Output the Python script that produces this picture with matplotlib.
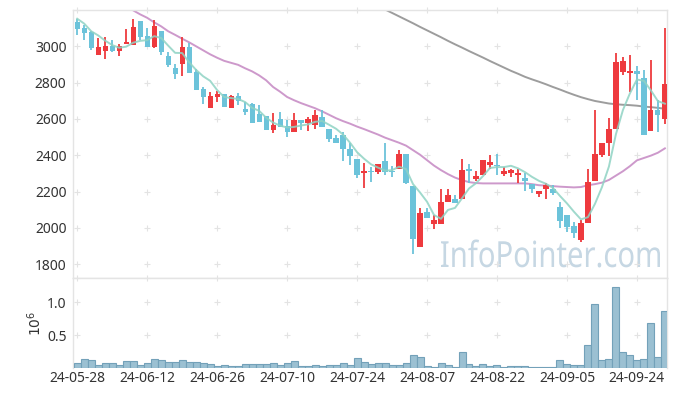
import matplotlib
matplotlib.use("Agg")
import matplotlib.pyplot as plt
import numpy as np
from matplotlib.textpath import TextPath
from matplotlib.patches import PathPatch
from matplotlib.font_manager import FontProperties
from matplotlib.transforms import Affine2D

plt.rcParams['font.family'] = ['Noto Sans', 'DejaVu Sans']

# daily candles, 2024-05-28 .. 2024-09-30 (trading days only)
opens = [3133, 3100, 3079, 2954, 2974, 3000, 2974, 3013, 3007, 3139,
         3055, 2996, 3083, 2945, 2881, 2903, 2995, 2859, 2763, 2661,
         2721, 2736, 2661, 2725, 2653, 2685, 2626, 2615, 2538, 2602,
         2560, 2529, 2593, 2578, 2569, 2608, 2547, 2496, 2510, 2437,
         2378, 2300, 2313, 2309, 2368, 2314, 2322, 2406, 2230, 1896,
         2085, 2021, 2019, 2144, 2157, 2157, 2327, 2268, 2294, 2345,
         2345, 2296, 2303, 2294, 2274, 2241, 2186, 2212, 2212, 2113,
         2071, 2010, 1933, 2028, 2259, 2404, 2470, 2547, 2859, 2853,
         2862, 2828, 2534, 2648, 2602]
highs = [3152, 3119, 3083, 3046, 3051, 3033, 3015, 3097, 3152, 3139,
         3101, 3147, 3083, 2969, 2905, 3051, 3018, 2877, 2776, 2749,
         2752, 2736, 2730, 2743, 2694, 2688, 2675, 2615, 2630, 2639,
         2593, 2630, 2593, 2611, 2648, 2648, 2547, 2510, 2529, 2465,
         2378, 2358, 2336, 2351, 2465, 2340, 2428, 2406, 2230, 2107,
         2107, 2071, 2212, 2212, 2180, 2382, 2351, 2314, 2373, 2404,
         2406, 2336, 2327, 2327, 2300, 2241, 2203, 2248, 2236, 2144,
         2071, 2034, 2043, 2327, 2652, 2465, 2606, 2963, 2941, 2954,
         2890, 2872, 2923, 2703, 3103]
lows = [3060, 3033, 2982, 2954, 2932, 2969, 2947, 3013, 3007, 3037,
        2996, 2991, 2954, 2886, 2822, 2835, 2853, 2758, 2685, 2661,
        2694, 2666, 2661, 2679, 2620, 2578, 2582, 2538, 2523, 2553,
        2501, 2529, 2538, 2534, 2547, 2556, 2474, 2468, 2369, 2349,
        2272, 2217, 2250, 2296, 2290, 2278, 2322, 2239, 1854, 1896,
        2052, 1992, 2019, 2144, 2135, 2157, 2245, 2259, 2294, 2322,
        2294, 2287, 2278, 2248, 2203, 2190, 2168, 2159, 2180, 2001,
        1975, 1942, 1920, 2028, 2259, 2391, 2395, 2547, 2841, 2749,
        2707, 2510, 2534, 2529, 2571]
closes = [3094, 3075, 2991, 2995, 3000, 2974, 3000, 3022, 3104, 3050,
          2996, 3110, 2969, 2895, 2848, 2995, 2853, 2758, 2721, 2725,
          2736, 2666, 2725, 2699, 2639, 2578, 2582, 2538, 2565, 2553,
          2529, 2593, 2578, 2598, 2620, 2556, 2489, 2468, 2437, 2395,
          2294, 2313, 2309, 2351, 2309, 2309, 2406, 2245, 1937, 2080,
          2052, 2043, 2140, 2180, 2135, 2318, 2312, 2285, 2373, 2362,
          2342, 2313, 2318, 2305, 2259, 2212, 2203, 2236, 2190, 2039,
          2006, 1973, 2025, 2250, 2406, 2465, 2544, 2914, 2918, 2864,
          2846, 2510, 2648, 2620, 2795]
volumes = [77000, 138000, 122000, 46000, 77000, 77000, 46000, 107000, 107000, 46000,
           77000, 138000, 122000, 92000, 92000, 122000, 92000, 92000, 77000, 61000,
           31000, 46000, 31000, 31000, 61000, 61000, 61000, 61000, 77000, 46000,
           77000, 107000, 31000, 31000, 46000, 31000, 46000, 41000, 71000, 41000,
           148000, 87000, 56000, 71000, 71000, 41000, 41000, 71000, 194000, 163000,
           26000, 10000, 71000, 41000, 10000, 240000, 56000, 26000, 56000, 26000,
           41000, 10000, 26000, 26000, 26000, 10000, 10000, 10000, 10000, 117000,
           56000, 41000, 41000, 347000, 974000, 117000, 133000, 1235000, 240000, 194000,
           117000, 133000, 684000, 163000, 867000]

# moving averages as drawn (5, 20, 60 day)
ma5 = [3152, 3125, 3083, 3060, 3031, 3007, 2992, 2998, 3020, 3030,
       3034, 3056, 3046, 3004, 2964, 2963, 2912, 2870, 2835, 2810,
       2759, 2721, 2715, 2710, 2693, 2661, 2645, 2607, 2580, 2563,
       2553, 2556, 2564, 2570, 2584, 2589, 2568, 2546, 2514, 2469,
       2417, 2381, 2350, 2332, 2315, 2318, 2337, 2324, 2241, 2195,
       2144, 2071, 2050, 2099, 2110, 2163, 2217, 2246, 2285, 2330,
       2335, 2335, 2342, 2328, 2307, 2281, 2259, 2243, 2220, 2176,
       2135, 2089, 2047, 2059, 2132, 2224, 2338, 2516, 2649, 2741,
       2817, 2810, 2757, 2698, 2684]
ma20_start = 8
ma20 = [3198, 3176, 3157, 3132, 3110, 3083, 3063, 3042, 3022, 3000,
        2978, 2956, 2937, 2920, 2909, 2898, 2879, 2862, 2840, 2813,
        2776, 2750, 2721, 2703, 2687, 2673, 2659, 2642, 2623, 2604,
        2588, 2574, 2558, 2544, 2529, 2514, 2497, 2483, 2469, 2453,
        2428, 2403, 2373, 2343, 2318, 2296, 2277, 2263, 2252, 2247,
        2245, 2245, 2245, 2245, 2245, 2245, 2245, 2241, 2235, 2233,
        2230, 2227, 2225, 2223, 2225, 2235, 2241, 2249, 2264, 2288,
        2312, 2340, 2372, 2385, 2398, 2414, 2438]
ma60_start = 44
ma60 = [3203, 3184, 3165, 3146, 3127, 3107, 3088, 3069, 3050, 3030,
        3011, 2993, 2974, 2956, 2938, 2919, 2901, 2883, 2865, 2849,
        2832, 2818, 2805, 2791, 2776, 2762, 2747, 2733, 2720, 2709,
        2699, 2692, 2685, 2681, 2678, 2676, 2673, 2668, 2665, 2661,
        2656]

tick_pos = [0, 10, 20, 30, 40, 50, 60, 70, 80]
tick_labels = ['24-05-28', '24-06-12', '24-06-26', '24-07-10', '24-07-24',
               '24-08-07', '24-08-22', '24-09-05', '24-09-24']
price_ticks = [1800, 2000, 2200, 2400, 2600, 2800, 3000]

UP = '#ee3a3e'
DOWN = '#6cc3da'
GRID = '#e3e3e3'
SPINE = '#e4e4e4'
TXT = '#333333'

W, H = 677, 396
fig = plt.figure(figsize=(W / 100, H / 100), dpi=100)
left = 73 / W
width = (667 - 73) / W
ax = fig.add_axes([left, 1 - 278 / H, width, (278 - 10) / H])
axv = fig.add_axes([left, 1 - 368 / H, width, (368 - 278) / H], sharex=ax)

x = np.arange(len(closes))
o = np.array(opens)
c = np.array(closes)
up = c >= o
cols = np.where(up, UP, DOWN)

# wicks + bodies
ax.vlines(x, lows, highs, colors=cols, linewidth=1.3, zorder=3)
body_h = np.maximum(np.abs(c - o), 4)
ax.bar(x, body_h, 0.74, bottom=np.minimum(o, c), color=cols, linewidth=0, zorder=4)

# moving averages
ax.plot(x, ma5, color='#8fd3c4', lw=1.4, alpha=0.85, zorder=5)
ax.plot(np.arange(ma20_start, ma20_start + len(ma20)), ma20, color='#c88ec6', lw=1.4, alpha=0.9, zorder=2)
ax.plot(np.arange(ma60_start, ma60_start + len(ma60)), ma60, color='#8c8c8c', lw=1.4, alpha=0.85, zorder=2)

# volume
axv.bar(x, np.array(volumes) / 1e6, 1.0, color='#9bc0d2', edgecolor='#73a1b9', linewidth=0.8, zorder=3)

ax.set_xlim(-0.6, 84.3)
ax.set_ylim(1724, 3200)
axv.set_ylim(0, 1.37)

# "+" shaped grid marks
gx, gy = np.meshgrid(tick_pos, price_ticks + [3200])
ax.plot(gx.ravel(), gy.ravel(), '+', color=GRID, ms=4, mew=0.8, zorder=1, clip_on=False)
gx, gy = np.meshgrid(tick_pos, [0.5, 1.0, 1.37])
axv.plot(gx.ravel(), gy.ravel(), '+', color=GRID, ms=4, mew=0.8, zorder=1, clip_on=False)

ax.set_yticks(price_ticks)
ax.set_yticklabels([str(p) for p in price_ticks])
axv.set_yticks([0.5, 1.0])
axv.set_yticklabels(['0.5', '1.0'])
axv.set_xticks(tick_pos)
axv.set_xticklabels(tick_labels)
ax.tick_params(axis='x', labelbottom=False, length=0)
ax.tick_params(axis='y', length=0, pad=4.7, labelsize=10, labelcolor=TXT)
axv.tick_params(axis='y', length=0, pad=4.7, labelsize=10, labelcolor=TXT)
axv.tick_params(axis='x', length=0, pad=2.5, labelsize=10, labelcolor=TXT)

axv.set_ylabel(r'$10^6$', fontsize=10, color=TXT)
axv.yaxis.set_label_coords(-0.047, 0.5)

for a in (ax, axv):
    for s in a.spines.values():
        s.set_color(SPINE)
        s.set_linewidth(1.0)
axv.spines['bottom'].set_visible(False)

# watermark, squeezed horizontally to the reference width (pixel coords)
tp = TextPath((0, 0), 'InfoPointer.com', size=36, prop=FontProperties(family='Noto Sans'))
bb = tp.get_extents()
sx = (660 - 441) / bb.width
wm = PathPatch(tp, facecolor='#c6d7e3', edgecolor='none', zorder=0, clip_on=False,
               transform=Affine2D().translate(-bb.x0, 0).scale(sx, 1).translate(441, H - 267))
ax.add_patch(wm)

fig.savefig('out.png', dpi=100)
